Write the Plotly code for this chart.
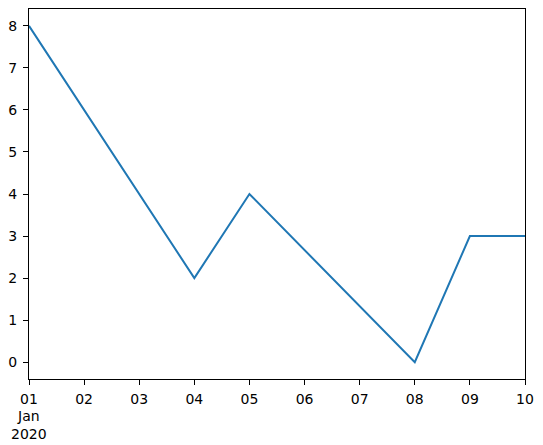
import pandas as pd
import plotly.graph_objects as go

# observed points (line kinks)
dates = ['2020-01-01', '2020-01-04', '2020-01-05', '2020-01-08', '2020-01-09', '2020-01-10']
values = [8, 2, 4, 0, 3, 3]

tick_dates = pd.date_range('2020-01-01', '2020-01-10', freq='D')
tick_labels = ['01', '02', '03', '04', '05', '06', '07', '08', '09', '10']
sub_label = 'Jan<br>2020'
y_ticks = [0, 1, 2, 3, 4, 5, 6, 7, 8]

fig = go.Figure()
fig.add_trace(go.Scatter(x=pd.to_datetime(dates),
                         y=values,
                         mode='lines',
                         line=dict(color='#1f77b4', width=2),
                         showlegend=False))

font = dict(family='DejaVu Sans', size=14, color='black')
axis_style = dict(showline=True,
                  mirror=True,
                  linecolor='black',
                  linewidth=1,
                  ticks='outside',
                  ticklen=5,
                  tickwidth=1,
                  tickcolor='black',
                  showgrid=False,
                  zeroline=False,
                  tickfont=font)

fig.update_xaxes(type='date',
                 range=[tick_dates[0], tick_dates[-1]],
                 tickvals=tick_dates,
                 ticktext=tick_labels,
                 ticklabelstandoff=2,
                 **axis_style)
fig.update_yaxes(range=[-0.4, 8.4],
                 tickvals=y_ticks,
                 ticklabelstandoff=3,
                 **axis_style)

# month / year under the first tick
fig.add_annotation(x=tick_dates[0], xref='x',
                   y=0, yref='paper',
                   yanchor='top',
                   yshift=-28,
                   text=sub_label,
                   showarrow=False,
                   borderpad=0,
                   font=font)

# the page body adds 8px on the left and top, so the figure is shrunk by that
fig.update_layout(width=535,
                  height=437,
                  margin=dict(l=21, r=18, t=1, b=66, autoexpand=False),
                  plot_bgcolor='white',
                  paper_bgcolor='white')

fig.write_html("out.html")
